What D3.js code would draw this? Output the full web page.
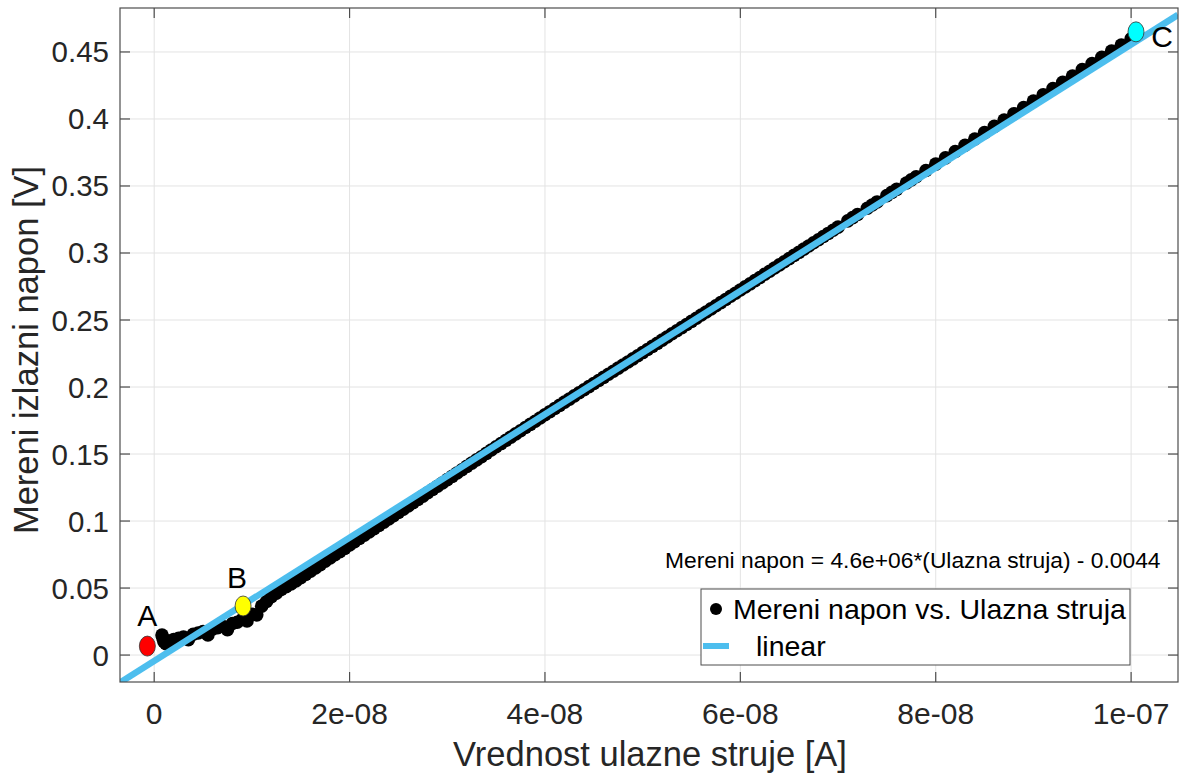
<!DOCTYPE html>
<html>
<head>
<meta charset="utf-8">
<script src="https://cdn.jsdelivr.net/npm/d3@7"></script>
<style>
  body { margin: 0; background: #fff; }
  svg { font-family: "Liberation Sans", Arial, Helvetica, sans-serif; }
</style>
</head>
<body>
<svg id="chart" width="1180" height="776"></svg>
<script>
// measured points: input current [A] and output voltage [V], main sweep
var ulaznaStruja = [
  0.8e-9, 1.0e-9, 1.2e-9, 2e-9, 3e-9, 4e-9, 5e-9, 6e-9, 7e-9, 8e-9, 9e-9,
  10e-9, 11e-9, 12e-9, 13e-9, 14e-9, 15e-9, 16e-9, 17e-9, 18e-9, 19e-9,
  20e-9, 21e-9, 22e-9, 23e-9, 24e-9, 25e-9, 26e-9, 27e-9, 28e-9, 29e-9,
  30e-9, 31e-9, 32e-9, 33e-9, 34e-9, 35e-9, 36e-9, 37e-9, 38e-9, 39e-9,
  40e-9, 41e-9, 42e-9, 43e-9, 44e-9, 45e-9, 46e-9, 47e-9, 48e-9, 49e-9,
  50e-9, 51e-9, 52e-9, 53e-9, 54e-9, 55e-9, 56e-9, 57e-9, 58e-9, 59e-9,
  60e-9, 61e-9, 62e-9, 63e-9, 64e-9, 65e-9, 66e-9, 67e-9, 68e-9, 69e-9,
  70e-9, 71e-9, 72e-9, 73e-9, 74e-9, 75e-9, 76e-9, 77e-9, 78e-9, 79e-9,
  80e-9, 81e-9, 82e-9, 83e-9, 84e-9, 85e-9, 86e-9, 87e-9, 88e-9, 89e-9,
  90e-9, 91e-9, 92e-9, 93e-9, 94e-9, 95e-9, 96e-9, 97e-9, 98e-9, 99e-9,
  100e-9
];
var mereniNapon = [
  0.0150, 0.0100, 0.0085, 0.0115, 0.0135, 0.0155, 0.0175, 0.0195, 0.0215, 0.0235, 0.0265,
  0.0305, 0.0365, 0.0435, 0.0489, 0.0530, 0.0577, 0.0626, 0.0675, 0.0724, 0.0772,
  0.0821, 0.0870, 0.0918, 0.0967, 0.1015, 0.1064, 0.1112, 0.1162, 0.1211, 0.1260,
  0.1309, 0.1358, 0.1408, 0.1456, 0.1505, 0.1554, 0.1602, 0.1650, 0.1698, 0.1745,
  0.1793, 0.1840, 0.1887, 0.1934, 0.1980, 0.2026, 0.2072, 0.2118, 0.2164, 0.2210,
  0.2257, 0.2303, 0.2350, 0.2397, 0.2443, 0.2490, 0.2537, 0.2583, 0.2630, 0.2677,
  0.2724, 0.2770, 0.2817, 0.2864, 0.2911, 0.2958, 0.3005, 0.3052, 0.3099, 0.3146,
  0.3193, 0.3240, 0.3287, 0.3334, 0.3381, 0.3428, 0.3475, 0.3522, 0.3569, 0.3616,
  0.3663, 0.3710, 0.3757, 0.3804, 0.3851, 0.3898, 0.3945, 0.3992, 0.4039, 0.4086,
  0.4133, 0.4180, 0.4227, 0.4274, 0.4321, 0.4368, 0.4414, 0.4460, 0.4506, 0.4552,
  0.4598
];

// extra (denser) samples in the lower part of the sweep
var gustaStruja = [
  0.9e-9, 1.5e-9, 2.5e-9, 3.5e-9, 4.5e-9, 5.5e-9, 6.5e-9, 7.5e-9, 8.5e-9, 9.5e-9, 10.5e-9,
  11.5e-9, 12.5e-9, 13.5e-9, 14.5e-9, 15.5e-9, 16.5e-9, 17.5e-9, 18.5e-9, 19.5e-9,
  20.5e-9, 21.5e-9, 22.5e-9, 23.5e-9, 24.5e-9, 25.5e-9, 26.5e-9, 27.5e-9, 28.5e-9, 29.5e-9,
  30.5e-9, 31.5e-9, 32.5e-9, 33.5e-9, 34.5e-9, 35.5e-9, 36.5e-9, 37.5e-9, 38.5e-9, 39.5e-9,
  40.5e-9, 41.5e-9, 42.5e-9, 43.5e-9, 44.5e-9, 45.5e-9, 46.5e-9, 47.5e-9, 48.5e-9, 49.5e-9,
  50.5e-9, 51.5e-9, 52.5e-9, 53.5e-9, 54.5e-9, 55.5e-9, 56.5e-9, 57.5e-9, 58.5e-9, 59.5e-9,
  60.5e-9, 61.5e-9, 62.5e-9, 63.5e-9, 64.5e-9, 65.5e-9, 66.5e-9, 67.5e-9, 68.5e-9, 69.5e-9,
  71.5e-9, 73.5e-9, 75.5e-9, 77.5e-9
];
var gustiNapon = [
  0.0125, 0.0105, 0.0125, 0.0115, 0.0165, 0.0150, 0.0205, 0.0190, 0.0245, 0.0255, 0.0300,
  0.0400, 0.0462, 0.0510, 0.0553, 0.0601, 0.0650, 0.0700, 0.0748, 0.0796,
  0.0845, 0.0894, 0.0942, 0.0991, 0.1039, 0.1088, 0.1137, 0.1186, 0.1235, 0.1284,
  0.1333, 0.1383, 0.1432, 0.1480, 0.1530, 0.1578, 0.1626, 0.1674, 0.1721, 0.1769,
  0.1816, 0.1863, 0.1910, 0.1957, 0.2003, 0.2049, 0.2095, 0.2141, 0.2187, 0.2233,
  0.2280, 0.2326, 0.2373, 0.2420, 0.2466, 0.2513, 0.2560, 0.2606, 0.2653, 0.2700,
  0.2747, 0.2794, 0.2841, 0.2888, 0.2935, 0.2982, 0.3029, 0.3076, 0.3123, 0.3170,
  0.3264, 0.3358, 0.3452, 0.3546
];

// linear fit: napon = a * struja + b
var fitA = 4.6e6;
var fitB = -0.0044;

// highlighted points A, B, C
var tackeOznake = ["A", "B", "C"];
var tackeStruja = [-0.7e-9, 9.1e-9, 100.5e-9];
var tackeNapon = [0.0067, 0.0366, 0.4650];
var tackeBoje = ["#ff0000", "#ffff00", "#00ffff"];

var xTicks = [0, 2e-8, 4e-8, 6e-8, 8e-8, 1e-7];
var xTickLabels = ["0", "2e-08", "4e-08", "6e-08", "8e-08", "1e-07"];
var yTicks = [0, 0.05, 0.1, 0.15, 0.2, 0.25, 0.3, 0.35, 0.4, 0.45];
var yTickLabels = ["0", "0.05", "0.1", "0.15", "0.2", "0.25", "0.3", "0.35", "0.4", "0.45"];

var textColor = "#262626";
var axisColor = "#4d4d4d";
var fitColor = "#4dbeee";

var boxLeft = 120, boxRight = 1178, boxTop = 8, boxBottom = 682;

var x = d3.scaleLinear().domain([-3.5e-9, 1.048e-7]).range([boxLeft, boxRight]);
var y = d3.scaleLinear().domain([-0.0201, 0.4828]).range([boxBottom, boxTop]);

var svg = d3.select("#chart");

svg.append("defs").append("clipPath")
    .attr("id", "plotclip")
  .append("rect")
    .attr("x", boxLeft)
    .attr("y", boxTop)
    .attr("width", boxRight - boxLeft)
    .attr("height", boxBottom - boxTop);

// grid
svg.append("g")
  .selectAll("line")
  .data(xTicks)
  .enter()
    .append("line")
      .attr("x1", function(d) { return x(d); })
      .attr("x2", function(d) { return x(d); })
      .attr("y1", boxTop)
      .attr("y2", boxBottom)
      .attr("stroke", "#e3e3e3")
      .attr("stroke-width", 1);

svg.append("g")
  .selectAll("line")
  .data(yTicks)
  .enter()
    .append("line")
      .attr("x1", boxLeft)
      .attr("x2", boxRight)
      .attr("y1", function(d) { return y(d); })
      .attr("y2", function(d) { return y(d); })
      .attr("stroke", "#e3e3e3")
      .attr("stroke-width", 1);

var plot = svg.append("g").attr("clip-path", "url(#plotclip)");

// measured data
var points = ulaznaStruja.map(function(s, i) { return {s: s, v: mereniNapon[i]}; })
  .concat(gustaStruja.map(function(s, i) { return {s: s, v: gustiNapon[i]}; }));

plot.append("g")
  .selectAll("circle")
  .data(points)
  .enter()
    .append("circle")
      .attr("cx", function(d) { return x(d.s); })
      .attr("cy", function(d) { return y(d.v); })
      .attr("r", 6.8)
      .attr("fill", "#000");

// fit line
var xd = x.domain();
plot.append("line")
    .attr("x1", x(xd[0]))
    .attr("y1", y(fitA * xd[0] + fitB))
    .attr("x2", x(xd[1]))
    .attr("y2", y(fitA * xd[1] + fitB))
    .attr("stroke", fitColor)
    .attr("stroke-width", 6.5);

// highlighted points
var oznake = tackeOznake.map(function(o, i) {
  return {o: o, s: tackeStruja[i], v: tackeNapon[i], c: tackeBoje[i]};
});

plot.append("g")
  .selectAll("ellipse")
  .data(oznake)
  .enter()
    .append("ellipse")
      .attr("cx", function(d) { return x(d.s); })
      .attr("cy", function(d) { return y(d.v); })
      .attr("rx", 8)
      .attr("ry", 10)
      .attr("fill", function(d) { return d.c; })
      .attr("stroke", "#333")
      .attr("stroke-width", 0.8);

var labelOffsets = {A: [0, -31], B: [-6, -29], C: [26, 5]};
svg.append("g")
  .selectAll("text")
  .data(oznake)
  .enter()
    .append("text")
      .attr("x", function(d) { return x(d.s) + labelOffsets[d.o][0]; })
      .attr("y", function(d) { return y(d.v) + labelOffsets[d.o][1]; })
      .attr("text-anchor", "middle")
      .attr("dominant-baseline", "central")
      .attr("font-size", 30)
      .attr("fill", "#000")
      .text(function(d) { return d.o; });

// axes box and ticks
svg.append("rect")
    .attr("x", boxLeft)
    .attr("y", boxTop)
    .attr("width", boxRight - boxLeft)
    .attr("height", boxBottom - boxTop)
    .attr("fill", "none")
    .attr("stroke", axisColor)
    .attr("stroke-width", 1.2);

var tickLen = 10;
xTicks.forEach(function(t) {
  svg.append("line").attr("x1", x(t)).attr("x2", x(t)).attr("y1", boxBottom).attr("y2", boxBottom - tickLen)
    .attr("stroke", axisColor).attr("stroke-width", 1.2);
  svg.append("line").attr("x1", x(t)).attr("x2", x(t)).attr("y1", boxTop).attr("y2", boxTop + tickLen)
    .attr("stroke", axisColor).attr("stroke-width", 1.2);
});
yTicks.forEach(function(t) {
  svg.append("line").attr("x1", boxLeft).attr("x2", boxLeft + tickLen).attr("y1", y(t)).attr("y2", y(t))
    .attr("stroke", axisColor).attr("stroke-width", 1.2);
  svg.append("line").attr("x1", boxRight).attr("x2", boxRight - tickLen).attr("y1", y(t)).attr("y2", y(t))
    .attr("stroke", axisColor).attr("stroke-width", 1.2);
});

// tick labels
svg.append("g")
  .selectAll("text")
  .data(xTicks)
  .enter()
    .append("text")
      .attr("x", function(d) { return x(d); })
      .attr("y", 724)
      .attr("text-anchor", "middle")
      .attr("font-size", 30)
      .attr("fill", textColor)
      .text(function(d, i) { return xTickLabels[i]; });

svg.append("g")
  .selectAll("text")
  .data(yTicks)
  .enter()
    .append("text")
      .attr("x", 109)
      .attr("y", function(d) { return y(d); })
      .attr("text-anchor", "end")
      .attr("dominant-baseline", "central")
      .attr("font-size", 29.5)
      .attr("fill", textColor)
      .text(function(d, i) { return yTickLabels[i]; });

// axis titles
svg.append("text")
    .attr("x", 650)
    .attr("y", 766)
    .attr("text-anchor", "middle")
    .attr("font-size", 34.5)
    .attr("fill", textColor)
    .text("Vrednost ulazne struje [A]");

svg.append("text")
    .attr("transform", "translate(38,350) rotate(-90)")
    .attr("text-anchor", "middle")
    .attr("font-size", 34.5)
    .attr("fill", textColor)
    .text("Mereni izlazni napon [V]");

// fit equation
svg.append("text")
    .attr("x", 665)
    .attr("y", 568)
    .attr("font-size", 22.8)
    .attr("fill", "#000")
    .text("Mereni napon = 4.6e+06*(Ulazna struja) - 0.0044");

// legend
var legend = svg.append("g");
legend.append("rect")
    .attr("x", 701)
    .attr("y", 589)
    .attr("width", 429)
    .attr("height", 76)
    .attr("fill", "#fff")
    .attr("stroke", axisColor)
    .attr("stroke-width", 1);
legend.append("circle")
    .attr("cx", 716)
    .attr("cy", 609)
    .attr("r", 6)
    .attr("fill", "#000");
legend.append("text")
    .attr("x", 733)
    .attr("y", 619)
    .attr("font-size", 28.5)
    .attr("fill", "#000")
    .text("Mereni napon vs. Ulazna struja");
legend.append("line")
    .attr("x1", 703)
    .attr("x2", 729)
    .attr("y1", 646)
    .attr("y2", 646)
    .attr("stroke", fitColor)
    .attr("stroke-width", 6);
legend.append("text")
    .attr("x", 756)
    .attr("y", 656)
    .attr("font-size", 28.5)
    .attr("fill", "#000")
    .text("linear");
</script>
</body>
</html>
